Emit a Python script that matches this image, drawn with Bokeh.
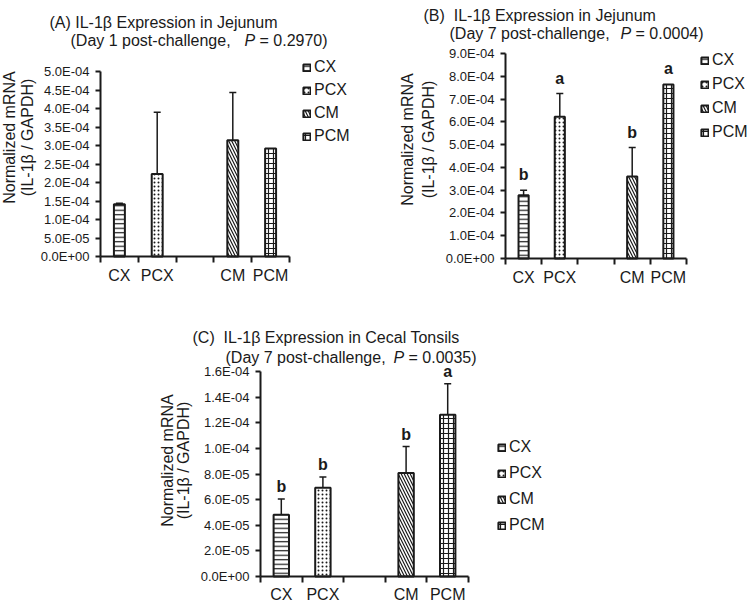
import numpy as np
from bokeh.plotting import figure
from bokeh.models import (Range1d, FixedTicker, CustomJSTickFormatter, ColumnDataSource,
                          Whisker, TeeHead, LabelSet, Label, Legend, LegendItem)
from bokeh.layouts import column, row
from bokeh.core.properties import value
from bokeh.embed import file_html
from bokeh.resources import INLINE

# ---------------- data ----------------
slots = ["CX", "PCX", "", "CM", "PCM"]
groups = ["CX", "PCX", "CM", "PCM"]

a_mean = [1.41e-4, 2.23e-4, 3.14e-4, 2.92e-4]
a_err = [0.03e-4, 1.67e-4, 1.29e-4, 0.0]
a_letters = ["", "", "", ""]
a_yticks = [0.0, 5e-5, 1e-4, 1.5e-4, 2e-4, 2.5e-4, 3e-4, 3.5e-4, 4e-4, 4.5e-4, 5e-4]

b_mean = [2.78e-4, 6.22e-4, 3.60e-4, 7.64e-4]
b_err = [0.22e-4, 1.02e-4, 1.27e-4, 0.0]
b_letters = ["b", "a", "b", "a"]
b_yticks = [0.0, 1e-4, 2e-4, 3e-4, 4e-4, 5e-4, 6e-4, 7e-4, 8e-4, 9e-4]

c_mean = [4.82e-5, 6.93e-5, 8.08e-5, 1.262e-4]
c_err = [1.23e-5, 0.84e-5, 2.06e-5, 2.42e-5]
c_letters = ["b", "b", "b", "a"]
c_yticks = [0.0, 2e-5, 4e-5, 6e-5, 8e-5, 1e-4, 1.2e-4, 1.4e-4, 1.6e-4]

# ---------------- styles ----------------
FONT = "Liberation Sans"
INK = "#1a1a1a"
NB = "\u00a0"
patterns = ["horizontal_line", "dot", "left_diagonal_line", "cross"]
pscales = [4.5, 4, 6, 5]

FMT = """
const s = tick.toExponential(1).toUpperCase();
const parts = s.split("E");
const n = parseInt(parts[1]);
const a = Math.abs(n);
return parts[0] + "E" + (n < 0 ? "-" : "+") + (a < 10 ? "0" : "") + a;
"""


def panel(canvas, area, title1, day_txt, pval, mean, err, letters, yticks, bw,
          t1, t2, px_p, ylx1, ylx2, yly, leg_box, leg_spacing, letter_off, xstand):
    ox, oy, W, H = canvas          # canvas position/size on the page (px)
    L, R, T, B = area              # plot-area edges on the page (px)
    nx = len(slots)
    ymax = yticks[-1]
    sx = (R - L) / nx
    sy = (B - T) / ymax
    xr = Range1d(-(L - ox) / sx, nx + (ox + W - R) / sx)
    yr = Range1d(-(oy + H - B) / sy, ymax + (T - oy) / sy)

    p = figure(width=W, height=H, x_range=xr, y_range=yr,
               output_backend="svg", toolbar_location=None,
               min_border_left=0, min_border_right=0, min_border_top=0, min_border_bottom=0)
    p.outline_line_color = None
    p.xgrid.visible = False
    p.ygrid.visible = False
    p.background_fill_color = "white"
    p.border_fill_color = "white"

    def sxp(px):
        return px - ox

    def syp(py):
        return oy + H - py

    def lab(x, y, text, size="16px", style="normal", angle=0.0, align="left", baseline="alphabetic"):
        p.add_layout(Label(x=sxp(x), y=syp(y), x_units="screen", y_units="screen", text=text,
                           text_font=FONT, text_font_size=size, text_font_style=style,
                           text_color=INK, angle=angle, text_align=align, text_baseline=baseline))

    x = [slots.index(g) + 0.5 for g in groups]
    src = ColumnDataSource(dict(x=x, top=mean, pat=patterns, hs=pscales))
    r = p.vbar(x="x", top="top", width=bw, source=src, fill_color="white",
               line_color=INK, line_width=2, hatch_pattern="pat", hatch_scale="hs",
               hatch_color=INK, hatch_weight=1.2)

    wx = [xi for xi, e in zip(x, err) if e > 0]
    wlo = [m for m, e in zip(mean, err) if e > 0]
    whi = [m + e for m, e in zip(mean, err) if e > 0]
    ws = ColumnDataSource(dict(x=wx, lo=wlo, hi=whi))
    p.add_layout(Whisker(base="x", lower="lo", upper="hi", source=ws, line_width=1.5,
                         line_color=INK, upper_head=TeeHead(size=7, line_width=1.5, line_color=INK),
                         lower_head=None))

    if any(letters):
        ls = ColumnDataSource(dict(x=x, y=[m + e for m, e in zip(mean, err)], t=letters))
        p.add_layout(LabelSet(x="x", y="y", text="t", source=ls, y_offset=letter_off,
                              text_align="center", text_baseline="alphabetic",
                              text_font=value(FONT), text_font_size="16px",
                              text_font_style="bold", text_color=INK))

    # x axis: labels at centres, tick marks at slot boundaries
    xa = p.xaxis[0]
    xa.fixed_location = 0
    xa.bounds = (0, nx)
    xa.ticker = FixedTicker(ticks=x, minor_ticks=list(range(nx + 1)))
    xa.major_label_overrides = {xi: g for xi, g in zip(x, groups)}
    xa.major_tick_out = 0
    xa.major_tick_in = 0
    xa.minor_tick_out = 6
    xa.minor_tick_in = 0
    xa.minor_tick_line_width = 2
    xa.minor_tick_line_color = INK
    xa.axis_line_width = 2
    xa.axis_line_color = INK
    xa.major_label_standoff = xstand
    xa.major_label_text_font = FONT
    xa.major_label_text_font_size = "16px"
    xa.major_label_text_color = INK

    ya = p.yaxis[0]
    ya.fixed_location = 0
    ya.bounds = (0, ymax)
    ya.ticker = FixedTicker(ticks=yticks)
    ya.formatter = CustomJSTickFormatter(code=FMT)
    ya.major_tick_out = 5
    ya.major_tick_in = 0
    ya.major_tick_line_width = 2
    ya.major_tick_line_color = INK
    ya.axis_line_width = 2
    ya.axis_line_color = INK
    ya.major_label_standoff = 6
    ya.major_label_text_font = FONT
    ya.major_label_text_font_size = "13px"
    ya.major_label_text_color = INK

    # y-axis title (two lines)
    lab(ylx1, yly, "Normalized mRNA", angle=np.pi / 2, align="center", baseline="middle")
    lab(ylx2, yly, "(IL-1β / GAPDH)", angle=np.pi / 2, align="center", baseline="middle")

    # panel title (two lines, italic P)
    lab(t1[0], t1[1], title1)
    lab(t2[0], t2[1], day_txt)
    lab(px_p, t2[1], "P", style="italic")
    lab(px_p + 15, t2[1], "= " + pval + ")")

    items = [LegendItem(label=g, renderers=[r], index=i) for i, g in enumerate(groups)]
    leg = Legend(items=items, location=(sxp(leg_box[0]), syp(leg_box[1])),
                 glyph_width=9, glyph_height=9, label_standoff=3,
                 spacing=leg_spacing, padding=0, margin=0, border_line_color=None,
                 background_fill_alpha=0, label_text_font=FONT, label_text_font_size="16px",
                 label_text_color=INK, label_height=20)
    p.add_layout(leg)
    return p


pA = panel((0, 0, 373, 300), (100, 289, 71, 256),
           "(A) IL-1β Expression in Jejunum", "(Day 1 post-challenge,", "0.2970",
           a_mean, a_err, a_letters, a_yticks, bw=0.29,
           t1=(49, 22), t2=(70, 40), px_p=244,
           ylx1=9, ylx2=27, yly=137, leg_box=(302, 146), leg_spacing=3,
           letter_off=10, xstand=4)

pB = panel((373, 0, 376, 300), (505, 686, 53, 258),
           "(B)" + NB + NB + "IL-1β Expression in Jejunum", "(Day 7 post-challenge,", "0.0004",
           b_mean, b_err, b_letters, b_yticks, bw=0.28,
           t1=(423, 15), t2=(449, 33), px_p=620,
           ylx1=407, ylx2=428, yly=139, leg_box=(700, 142), leg_spacing=4,
           letter_off=10, xstand=4)

pC = panel((0, 300, 749, 305), (260, 468, 371, 576),
           "(C)" + NB + NB + "IL-1β Expression in Cecal Tonsils", "(Day 7 post-challenge,", "0.0035",
           c_mean, c_err, c_letters, c_yticks, bw=0.37,
           t1=(192, 337), t2=(225, 357), px_p=393,
           ylx1=167, ylx2=183, yly=460, leg_box=(497, 535), leg_spacing=6,
           letter_off=7, xstand=3)

layout = column(row(pA, pB), pC)
open("out.html", "w").write(file_html(layout, INLINE))
